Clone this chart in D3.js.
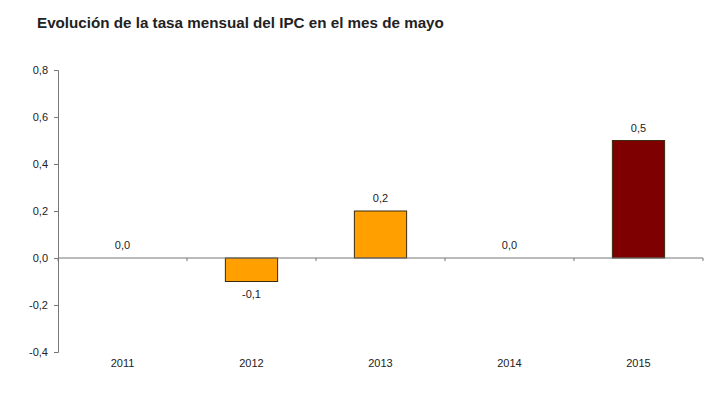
<!DOCTYPE html>
<html>
<head>
<meta charset="utf-8">
<script src="https://cdn.jsdelivr.net/npm/d3@7"></script>
<style>
    body { margin: 0; background: #fff; }
    text { font-family: "Liberation Sans", Arial, sans-serif; fill: #222; }
    .title { font-size: 15.2px; font-weight: bold; }
    .tick text { font-size: 11px; }
    .label { font-size: 11px; }
</style>
</head>
<body>
<svg id="chart"></svg>
<script>
    "use strict"
    const years = ["2011", "2012", "2013", "2014", "2015"];
    const values = [0.0, -0.1, 0.2, 0.0, 0.5];
    const barColors = ["#ffa000", "#ffa000", "#ffa000", "#ffa000", "#7f0000"];
    const yTicks = [-0.4, -0.2, 0, 0.2, 0.4, 0.6, 0.8];

    const width = 720;
    const height = 398;
    const x0 = 58, x1 = 703;
    const fmt = v => d3.format(".1f")(v).replace(".", ",").replace("−", "-");

    const svg = d3.select("#chart")
        .attr("width", width)
        .attr("height", height);

    svg.append("text")
        .attr("class", "title")
        .attr("x", 37)
        .attr("y", 27.5)
        .text("Evolución de la tasa mensual del IPC en el mes de mayo");

    const x = d3.scaleBand()
        .domain(years)
        .range([x0, x1])
        .paddingInner(0.595)
        .paddingOuter(0.2975);

    const y = d3.scaleLinear()
        .domain([-0.4, 0.8])
        .range([352, 70]);

    // y axis
    const yAxis = svg.append("g")
        .attr("transform", `translate(${x0},0)`)
        .call(d3.axisLeft(y).tickValues(yTicks).tickFormat(fmt).tickSizeOuter(0).tickSize(4).tickPadding(6));
    yAxis.select(".domain").attr("stroke", "#777");
    yAxis.selectAll(".tick line").attr("stroke", "#777");

    // bars
    svg.selectAll(".bar")
        .data(values)
        .join("rect")
        .attr("class", "bar")
        .attr("x", (d, i) => x(years[i]))
        .attr("width", x.bandwidth())
        .attr("y", d => y(Math.max(0, d)))
        .attr("height", d => Math.abs(y(d) - y(0)))
        .attr("fill", (d, i) => barColors[i])
        .attr("stroke", "#3a2a10")
        .attr("stroke-width", 1);

    // zero line with category boundary ticks
    svg.append("line")
        .attr("x1", x0).attr("x2", x1)
        .attr("y1", y(0)).attr("y2", y(0))
        .attr("stroke", "#777");

    const step = x.step();
    svg.selectAll(".xtick")
        .data(d3.range(years.length + 1))
        .join("line")
        .attr("class", "xtick")
        .attr("x1", i => x0 + i * step)
        .attr("x2", i => x0 + i * step)
        .attr("y1", y(0))
        .attr("y2", y(0) + 3)
        .attr("stroke", "#777");

    // year labels
    svg.selectAll(".year")
        .data(years)
        .join("text")
        .attr("class", "label year")
        .attr("x", d => x(d) + x.bandwidth() / 2)
        .attr("y", 367)
        .attr("text-anchor", "middle")
        .text(d => d);

    // value labels
    svg.selectAll(".val")
        .data(values)
        .join("text")
        .attr("class", "label val")
        .attr("x", (d, i) => x(years[i]) + x.bandwidth() / 2)
        .attr("y", d => d < 0 ? y(d) + 16 : y(d) - 9)
        .attr("text-anchor", "middle")
        .text(d => fmt(d));
</script>
</body>
</html>
